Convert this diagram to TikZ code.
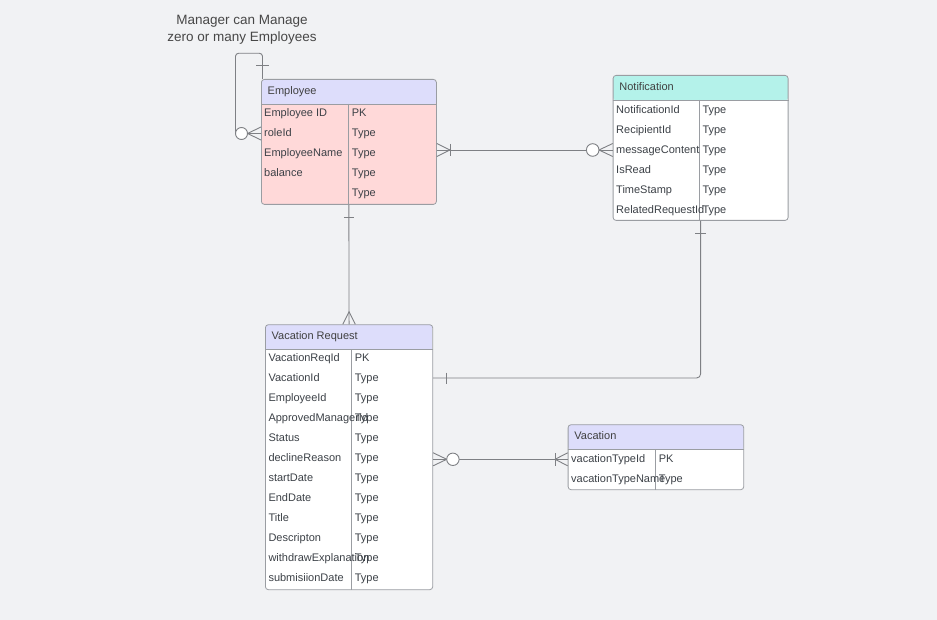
\documentclass[tikz,border=0pt]{standalone}
\usepackage{fontspec}
\setmainfont{Liberation Sans}
\definecolor{bgcol}{HTML}{F1F2F4}
\definecolor{hdrlav}{HTML}{DDDDFB}
\definecolor{hdrcyan}{HTML}{B4F2EA}
\definecolor{bodypink}{HTML}{FFD9D9}
\definecolor{tblline}{HTML}{9A9DA2}
\definecolor{connline}{HTML}{7E8084}
\definecolor{txtcol}{HTML}{3C4147}
\tikzset{
  tbl/.style={draw=tblline,line width=0.8pt,rounded corners=3pt,anchor=north west,inner sep=0pt,
    path picture={\fill[#1] (path picture bounding box.north west) rectangle ([yshift=-25pt]path picture bounding box.north east);}},
  sep/.style={draw=tblline,line width=0.8pt},
  cell/.style={anchor=base west,inner sep=0pt,text=txtcol,font=\fontsize{11}{13}\selectfont},
  hdr/.style={cell,text=black!75},
  lbl/.style={align=center,inner sep=0pt,text=black!72,font=\fontsize{13.5}{17}\selectfont},
  conn/.style={draw=connline,line width=0.9pt},
  ring/.style={conn,fill=white}
}
\begin{document}
\begin{tikzpicture}[x=1pt,y=-1pt]
\fill[bgcol] (0,0) rectangle (937,620);
\useasboundingbox (0,0) rectangle (937,620);

% tables
\node[tbl=hdrlav,fill=bodypink,minimum width=175pt,minimum height=125pt] (emp) at (261,79) {};
\node[tbl=hdrcyan,fill=white,minimum width=175pt,minimum height=145pt] (notif) at (612.7,75) {};
\node[tbl=hdrlav,fill=white,minimum width=167.3pt,minimum height=265pt] (vreq) at (265,324.3) {};
\node[tbl=hdrlav,fill=white,minimum width=175.6pt,minimum height=65pt] (vac) at (567.7,424.3) {};

\draw[sep] ([yshift=-25pt]emp.north west) -- ([yshift=-25pt]emp.north east);
\draw[sep] ([xshift=87.5pt,yshift=-25pt]emp.north west) -- ([xshift=87.5pt]emp.south west);
\draw[sep] ([yshift=-25pt]notif.north west) -- ([yshift=-25pt]notif.north east);
\draw[sep] ([xshift=86.6pt,yshift=-25pt]notif.north west) -- ([xshift=86.6pt]notif.south west);
\draw[sep] ([yshift=-25pt]vreq.north west) -- ([yshift=-25pt]vreq.north east);
\draw[sep] ([xshift=86.3pt,yshift=-25pt]vreq.north west) -- ([xshift=86.3pt]vreq.south west);
\draw[sep] ([yshift=-25pt]vac.north west) -- ([yshift=-25pt]vac.north east);
\draw[sep] ([xshift=88pt,yshift=-25pt]vac.north west) -- ([xshift=88pt]vac.south west);

% headers
\node[hdr] (emph) at (267.5,94.3) {Employee};
\node[hdr] (notifh) at (619.2,90.3) {Notification};
\node[hdr] (vreqh) at (271.5,339.3) {Vacation Request};
\node[hdr] (vach) at (574.2,439.5) {Vacation};

% rows
\foreach \t [count=\i] in {Employee ID,roleId,EmployeeName,balance}
  \node[cell] (emp-\i) at (264,96.7+20*\i) {\t};
\foreach \t [count=\i] in {PK,Type,Type,Type,Type}
  \node[cell] (empt-\i) at (351.7,96.7+20*\i) {\t};
\foreach \t [count=\i] in {NotificationId,RecipientId,messageContent,IsRead,TimeStamp,RelatedRequestId}
  \node[cell] (notif-\i) at (616,93.3+20*\i) {\t};
\foreach \i in {1,...,6}
  \node[cell] (notift-\i) at (702.3,93.3+20*\i) {Type};
\foreach \t [count=\i] in {VacationReqId,VacationId,EmployeeId,ApprovedManagerId,Status,declineReason,startDate,EndDate,Title,Descripton,withdrawExplanation,submisiionDate}
  \node[cell] (vreq-\i) at (268.3,341.7+20*\i) {\t};
\foreach \t [count=\i] in {PK,Type,Type,Type,Type,Type,Type,Type,Type,Type,Type,Type}
  \node[cell] (vreqt-\i) at (354.6,341.7+20*\i) {\t};
\foreach \t [count=\i] in {vacationTypeId,vacationTypeName}
  \node[cell] (vac-\i) at (571,442.5+20*\i) {\t};
\foreach \t [count=\i] in {PK,Type}
  \node[cell] (vact-\i) at (658.7,442.5+20*\i) {\t};

\node[lbl] (mgr) at (242,30) {Manager can Manage\\zero or many Employees};

% manager loop
\coordinate (loopc) at (241.5,133.5);
\draw[conn,rounded corners=3pt] ([xshift=1.5pt]emp.north west) -- ++(0,-25.7) -| ([xshift=-6pt]loopc);
\draw[conn] ([xshift=1.5pt,yshift=13.3pt]emp.north west) ++(-6.3,0) -- ++(12.6,0);
\draw[conn] ([xshift=6pt]loopc) -- ++(13.5,-6.5) ([xshift=6pt]loopc) -- (emp.west |- loopc) ([xshift=6pt]loopc) -- ++(13.5,6.5);
\draw[ring] (loopc) circle (6pt);

% employee - notification
\coordinate (enline) at (0,150);
\draw[conn] (emp.east |- enline) -- (notif.west |- enline);
\draw[conn] (emp.east |- enline) ++(0,-6.5) -- ++(13.2,6.5) -- ++(-13.2,6.5);
\draw[conn] (emp.east |- enline) ++(13.2,-6) -- ++(0,12);
\draw[conn] (notif.west |- enline) ++(0,-6.5) -- ++(-13.7,6.5) -- ++(13.7,6.5);
\draw[ring] (notif.west |- enline) ++(-20,0) circle (6.3pt);

% employee - vacation request
\draw[conn] (emp.south) -- (vreq.north);
\draw[conn] (emp.south) ++(-5,12.5) -- ++(10,0);
\draw[conn] (vreq.north) ++(-6.3,0) -- ++(6.3,-12.5) -- ++(6.3,12.5);

% notification - vacation request
\coordinate (nvline) at (0,378);
\draw[conn,rounded corners=4pt] (notif.south) |- (vreq.east |- nvline);
\draw[conn] (notif.south) ++(-5.5,12.5) -- ++(11,0);
\draw[conn] (vreq.east |- nvline) ++(13,-5.5) -- ++(0,11);

% vacation request - vacation
\coordinate (vvline) at (0,459.3);
\draw[conn] (vreq.east |- vvline) -- (vac.west |- vvline);
\draw[conn] (vreq.east |- vvline) ++(0,-6.5) -- ++(13.7,6.5) -- ++(-13.7,6.5);
\draw[ring] (vreq.east |- vvline) ++(19.8,0) circle (6.2pt);
\draw[conn] (vac.west |- vvline) ++(0,-6.5) -- ++(-12.7,6.5) -- ++(12.7,6.5);
\draw[conn] (vac.west |- vvline) ++(-12.7,-6.3) -- ++(0,12.6);
\end{tikzpicture}
\end{document}
